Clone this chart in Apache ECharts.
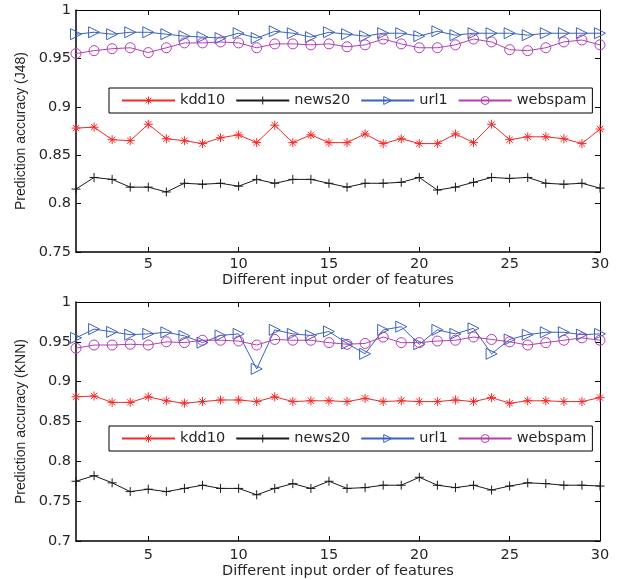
<!DOCTYPE html>
<html>
<head>
<meta charset="utf-8">
<script src="https://cdn.jsdelivr.net/npm/echarts@6/dist/echarts.min.js"></script>
<style>
	html, body { margin: 0; padding: 0; background: #fff; }
	#main { width: 626px; height: 580px; }
</style>
</head>
<body>
<div id="main"></div>
<script>
	// ************ data: input order 1..30
	var order = [1,2,3,4,5,6,7,8,9,10,11,12,13,14,15,16,17,18,19,20,21,22,23,24,25,26,27,28,29,30];
	var xTicks = [5, 10, 15, 20, 25, 30];
	var seriesNames = ['kdd10', 'news20', 'url1', 'webspam'];

	// J48
	var j48Kdd10 = [0.878,0.879,0.866,0.865,0.882,0.867,0.865,0.862,0.868,0.871,0.863,0.881,0.863,0.871,0.863,0.863,0.872,0.862,0.867,0.862,0.862,0.872,0.863,0.882,0.866,0.869,0.869,0.867,0.862,0.877];
	var j48News20 = [0.815,0.827,0.825,0.817,0.817,0.812,0.821,0.820,0.821,0.818,0.825,0.821,0.825,0.825,0.821,0.817,0.821,0.821,0.822,0.827,0.814,0.817,0.822,0.827,0.826,0.827,0.821,0.820,0.821,0.816];
	var j48Url1 = [0.975,0.977,0.975,0.977,0.977,0.975,0.973,0.972,0.971,0.976,0.971,0.978,0.976,0.972,0.977,0.975,0.973,0.976,0.976,0.973,0.978,0.974,0.976,0.976,0.976,0.974,0.976,0.976,0.976,0.976];
	var j48Webspam = [0.955,0.958,0.960,0.961,0.956,0.961,0.966,0.966,0.967,0.966,0.961,0.965,0.965,0.964,0.965,0.962,0.964,0.970,0.965,0.961,0.961,0.964,0.970,0.967,0.959,0.958,0.961,0.967,0.969,0.964];

	// KNN
	var knnKdd10 = [0.881,0.882,0.874,0.874,0.881,0.876,0.873,0.875,0.877,0.877,0.875,0.881,0.875,0.876,0.876,0.875,0.879,0.875,0.876,0.875,0.875,0.877,0.875,0.880,0.873,0.876,0.876,0.875,0.875,0.880];
	var knnNews20 = [0.775,0.782,0.773,0.762,0.765,0.762,0.766,0.770,0.766,0.766,0.758,0.766,0.772,0.766,0.775,0.766,0.767,0.770,0.770,0.780,0.770,0.767,0.770,0.764,0.769,0.773,0.772,0.770,0.770,0.769];
	var knnUrl1 = [0.955,0.966,0.9625,0.959,0.960,0.962,0.9575,0.949,0.958,0.960,0.916,0.965,0.960,0.958,0.963,0.948,0.935,0.965,0.969,0.947,0.965,0.960,0.967,0.935,0.953,0.959,0.962,0.962,0.959,0.960];
	var knnWebspam = [0.942,0.946,0.946,0.947,0.946,0.950,0.949,0.952,0.952,0.951,0.946,0.953,0.952,0.952,0.949,0.947,0.948,0.956,0.949,0.949,0.951,0.952,0.956,0.953,0.950,0.946,0.949,0.952,0.955,0.952];

	var FONT = '"DejaVu Sans", sans-serif';
	var FONT_V = '"Liberation Sans", Arial, sans-serif'; // rotated y name looks narrower
	var FS = 14.5;
	var TXT = '#262626';

	function pairs(vals) {
		var out = [];
		for (var i = 0; i < vals.length; i++) {
			out.push([order[i], vals[i]]);
		}
		return out;
	}

	// marker styles (MATLAB like)
	var looks = {
		kdd10: { color: '#f52828', symbol: 'path://M5,0L5,10M0,5L10,5M1.5,1.5L8.5,8.5M1.5,8.5L8.5,1.5', size: 9, fill: '#f52828' },
		news20: { color: '#1a1a1a', symbol: 'path://M5,0L5,10M0,5L10,5', size: 9, fill: '#1a1a1a' },
		url1: { color: '#3b62c0', symbol: 'path://M0,0L10,5L0,10Z', size: 11, fill: 'rgba(0,0,0,0)' },
		webspam: { color: '#b23fb2', symbol: 'circle', size: 10, fill: 'rgba(0,0,0,0)' }
	};

	function mkSeries(name, vals, idx) {
		var lk = looks[name];
		return {
			name: name,
			type: 'line',
			xAxisIndex: idx * 2,
			yAxisIndex: idx * 2,
			data: pairs(vals),
			symbol: lk.symbol,
			symbolSize: lk.size,
			showAllSymbol: true,
			lineStyle: { color: lk.color, width: 1 },
			itemStyle: { color: lk.fill, borderColor: lk.color, borderWidth: 1 },
			emphasis: { disabled: true },
			animation: false
		};
	}

	function xAxes(gridIdx, nameTxt, gap) {
		return [
			{
				type: 'value', gridIndex: gridIdx, min: 1, max: 30, position: 'bottom',
				name: nameTxt, nameLocation: 'middle', nameGap: gap,
				nameTextStyle: { color: TXT, fontFamily: FONT, fontSize: FS },
				axisLine: { lineStyle: { color: '#000', width: 1.5 } },
				axisTick: { inside: true, length: 5, customValues: xTicks, lineStyle: { color: '#000' } },
				axisLabel: { customValues: xTicks, color: TXT, fontFamily: FONT, fontSize: FS, margin: gap - 16 },
				splitLine: { show: false }
			},
			{
				type: 'value', gridIndex: gridIdx, min: 1, max: 30, position: 'top',
				axisLine: { lineStyle: { color: '#000', width: 1 } },
				axisTick: { inside: true, length: 5, customValues: xTicks, lineStyle: { color: '#000' } },
				axisLabel: { show: false },
				splitLine: { show: false }
			}
		];
	}

	function yAxes(gridIdx, minV, nameTxt) {
		return [
			{
				type: 'value', gridIndex: gridIdx, min: minV, max: 1, interval: 0.05, position: 'left',
				name: nameTxt, nameLocation: 'middle', nameGap: 46, nameRotate: 90,
				nameTextStyle: { color: TXT, fontFamily: FONT_V, fontSize: 14 },
				axisLine: { show: true, lineStyle: { color: '#000', width: 1.5 } },
				axisTick: { show: true, inside: true, length: 5, lineStyle: { color: '#000' } },
				axisLabel: { color: TXT, fontFamily: FONT, fontSize: FS, margin: 5 },
				splitLine: { show: false }
			},
			{
				type: 'value', gridIndex: gridIdx, min: minV, max: 1, interval: 0.05, position: 'right',
				axisLine: { show: true, lineStyle: { color: '#000', width: 1 } },
				axisTick: { show: true, inside: true, length: 5, lineStyle: { color: '#000' } },
				axisLabel: { show: false },
				splitLine: { show: false }
			}
		];
	}

	function mkLegend(top) {
		var items = [];
		for (var i = 0; i < seriesNames.length; i++) {
			var lk = looks[seriesNames[i]];
			items.push({ name: seriesNames[i], itemStyle: { color: lk.fill, borderColor: lk.color, borderWidth: 1 } });
		}
		return {
			data: items,
			left: 109,
			top: top,
			orient: 'horizontal',
			itemWidth: 53,
			itemHeight: 10,
			itemGap: 10,
			padding: [5, 6, 5, 12],
			borderColor: '#000',
			borderWidth: 1,
			backgroundColor: '#fff',
			selectedMode: false,
			textStyle: { color: TXT, fontFamily: FONT, fontSize: FS }
		};
	}

	var myChart = echarts.init(document.getElementById('main'));
	var option = {
		backgroundColor: '#fff',
		animation: false,
		grid: [
			{ left: 76, right: 26, top: 10, height: 242 },
			{ left: 76, right: 26, top: 302, height: 240 }
		],
		legend: [mkLegend(88), mkLegend(426)],
		xAxis: xAxes(0, 'Different input order of features', 21).concat(xAxes(1, 'Different input order of features', 23)),
		yAxis: yAxes(0, 0.75, 'Prediction accuracy (J48)').concat(yAxes(1, 0.7, 'Prediction accuracy (KNN)')),
		series: [
			mkSeries('kdd10', j48Kdd10, 0),
			mkSeries('news20', j48News20, 0),
			mkSeries('url1', j48Url1, 0),
			mkSeries('webspam', j48Webspam, 0),
			mkSeries('kdd10', knnKdd10, 1),
			mkSeries('news20', knnNews20, 1),
			mkSeries('url1', knnUrl1, 1),
			mkSeries('webspam', knnWebspam, 1)
		]
	};
	option && myChart.setOption(option);
</script>
</body>
</html>
